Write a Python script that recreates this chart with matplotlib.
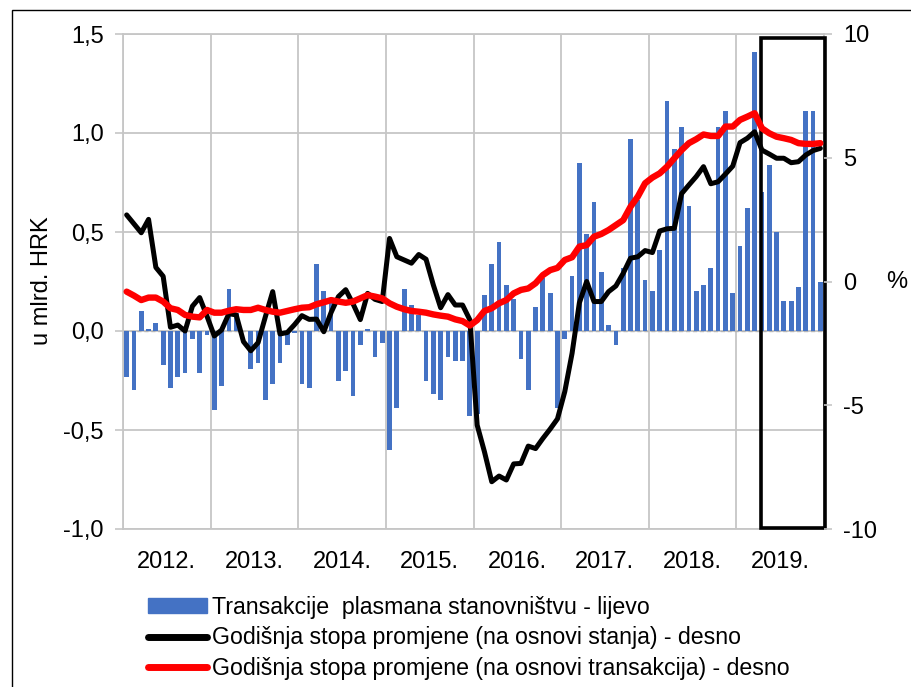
# Plasmani stanovnistvu: mjesecne transakcije (stupci, lijevo) i godisnje
# stope promjene (linije, desno), 2012.-2019.
import numpy as np
import matplotlib.pyplot as plt
from matplotlib.patches import Rectangle, Patch
from matplotlib.lines import Line2D
from matplotlib.ticker import FixedLocator, FuncFormatter, NullFormatter

plt.rcParams['font.family'] = ['Liberation Sans', 'DejaVu Sans']
plt.rcParams['font.size'] = 17
plt.rcParams['axes.unicode_minus'] = False

# --- data ----------------------------------------------------------------
years = ['2012.', '2013.', '2014.', '2015.', '2016.', '2017.', '2018.', '2019.']

transakcije = [
    -0.23, -0.30, 0.10, 0.01, 0.04, -0.17, -0.29, -0.23, -0.21, -0.04, -0.21, -0.02,
    -0.40, -0.28, 0.21, 0.09, 0.00, -0.19, -0.16, -0.35, -0.27, -0.16, -0.07, -0.01,
    -0.27, -0.29, 0.34, 0.20, 0.14, -0.25, -0.20, -0.33, -0.07, 0.01, -0.13, -0.06,
    -0.60, -0.39, 0.21, 0.13, 0.08, -0.25, -0.32, -0.35, -0.13, -0.15, -0.15, -0.43,
    -0.42, 0.18, 0.34, 0.45, 0.23, 0.16, -0.14, -0.30, 0.12, 0.27, 0.19, -0.39,
    -0.04, 0.28, 0.85, 0.49, 0.65, 0.30, 0.03, -0.07, 0.32, 0.97, 0.66, 0.26,
    0.20, 0.41, 1.16, 0.92, 1.03, 0.63, 0.20, 0.23, 0.32, 1.03, 1.11, 0.19,
    0.43, 0.62, 1.41, 0.70, 0.84, 0.50, 0.15, 0.15, 0.22, 1.11, 1.11, 0.25]

stopa_stanje = [
    2.69, 2.33, 1.97, 2.51, 0.57, 0.21, -1.85, -1.76, -2.00, -1.00, -0.65, -1.40,
    -2.20, -1.96, -1.30, -1.35, -2.43, -2.80, -2.47, -1.42, -0.41, -2.12, -2.06, -1.74,
    -1.38, -1.53, -1.52, -2.03, -1.25, -0.61, -0.33, -0.90, -1.54, -0.48, -0.72, -0.81,
    1.74, 1.00, 0.87, 0.74, 1.09, 0.90, -0.14, -1.06, -0.53, -0.95, -0.95, -1.55,
    -5.80, -6.88, -8.09, -7.86, -8.02, -7.37, -7.35, -6.65, -6.75, -6.34, -5.96, -5.55,
    -4.45, -2.90, -0.86, 0.00, -0.81, -0.81, -0.41, -0.18, 0.33, 0.94, 1.00, 1.25,
    1.17, 2.04, 2.13, 2.15, 3.55, 3.90, 4.24, 4.64, 3.95, 4.03, 4.34, 4.66,
    5.61, 5.79, 6.05, 5.31, 5.15, 4.98, 4.98, 4.80, 4.84, 5.11, 5.29, 5.38]

stopa_transakcije = [
    -0.41, -0.57, -0.75, -0.65, -0.65, -0.81, -1.08, -1.15, -1.35, -1.42, -1.45, -1.15,
    -1.26, -1.26, -1.18, -1.12, -1.15, -1.15, -1.06, -1.15, -1.22, -1.26, -1.19, -1.12,
    -1.06, -1.04, -0.92, -0.84, -0.75, -0.81, -0.86, -0.81, -0.68, -0.55, -0.61, -0.68,
    -0.88, -1.02, -1.12, -1.19, -1.22, -1.26, -1.33, -1.38, -1.42, -1.53, -1.60, -1.78,
    -1.56, -1.19, -1.08, -0.88, -0.75, -0.48, -0.34, -0.28, -0.07, 0.26, 0.46, 0.55,
    0.87, 0.98, 1.41, 1.47, 1.81, 1.92, 2.08, 2.28, 2.48, 3.02, 3.43, 3.97,
    4.20, 4.37, 4.64, 4.98, 5.31, 5.59, 5.75, 5.94, 5.88, 5.88, 6.26, 6.26,
    6.53, 6.66, 6.80, 6.19, 5.99, 5.85, 5.79, 5.72, 5.59, 5.56, 5.56, 5.59]

labels = ['Transakcije  plasmana stanovništvu - lijevo',
          'Godišnja stopa promjene (na osnovi stanja) - desno',
          'Godišnja stopa promjene (na osnovi transakcija) - desno']

# --- figure ----------------------------------------------------------------
W, H = 911, 687
fig = plt.figure(figsize=(W / 100, H / 100), dpi=100)
ax = fig.add_axes([123 / W, 1 - 529 / H, (824 - 123) / W, (529 - 34) / H])
ax2 = ax.twinx()

grid = '#c6c6c6'
x = np.arange(len(transakcije))
n_years = len(years)

ax.bar(x, transakcije, width=0.65, color='#4472C4', zorder=3)
ax.axhline(0, color='#b4b4b4', lw=1.0, ls=(0, (3, 2)), zorder=2)

ax.set_xlim(-0.5, len(x) - 0.5)
ax.set_ylim(-1.0, 1.5)
ax.set_yticks(np.arange(-1.0, 1.51, 0.5))
ax.yaxis.set_major_formatter(FuncFormatter(lambda v, p: f'{v:.1f}'.replace('.', ',')))

# gridlines on year boundaries, year labels centred in each year
bounds = np.arange(0, n_years + 1) * 12 - 0.5
ax.xaxis.set_major_locator(FixedLocator(bounds))
ax.xaxis.set_major_formatter(NullFormatter())
ax.xaxis.set_minor_locator(FixedLocator(bounds[:-1] + 6))
ax.set_xticklabels(years, minor=True)
ax.tick_params(axis='x', which='both', length=0, pad=16)
ax.grid(True, axis='both', which='major', color=grid, lw=1.3, zorder=0)
ax.set_axisbelow(True)

ax.tick_params(axis='y', length=6, width=1.2, color=grid, pad=8)
for s in ax.spines.values():
    s.set_color(grid)
    s.set_linewidth(1.3)

# right axis lines
ax2.plot(x, stopa_stanje, color='black', lw=3.6, solid_joinstyle='round',
         solid_capstyle='round', zorder=4)
ax2.plot(x, stopa_transakcije, color='#ff0000', lw=4.6, solid_joinstyle='round',
         solid_capstyle='round', zorder=5)
ax2.set_ylim(-10, 10)
ax2.set_yticks([-10, -5, 0, 5, 10])
ax2.yaxis.set_major_formatter(FuncFormatter(lambda v, p: f'{v:.0f}'))
ax2.tick_params(axis='y', length=6, width=1.2, color=grid, pad=8)
for s in ax2.spines.values():
    s.set_visible(False)

# highlight box around 2019
ax.add_patch(Rectangle((86.9, -0.995), 95.65 - 86.9, 1.48 + 0.995, fill=False,
                       ec='black', lw=2.6, zorder=10, clip_on=False))

fig.text(42 / W, 1 - 281 / H, 'u mlrd. HRK', rotation=90, ha='center', va='center')
fig.text(897 / W, 1 - 282 / H, '%', ha='center', va='center')

# outer frame
fig.add_artist(Rectangle((12 / W, -0.05), 1.1, 1 - 10 / H + 0.05, fill=False,
                         ec='black', lw=1.0, transform=fig.transFigure))

handles = [Patch(color='#4472C4'),
           Line2D([], [], color='black', lw=5, solid_capstyle='round'),
           Line2D([], [], color='#ff0000', lw=5, solid_capstyle='round')]
fig.legend(handles, labels, loc='upper left', bbox_to_anchor=(148 / W, 1 - 596 / H),
           frameon=False, borderpad=0, borderaxespad=0, handlelength=2.55,
           handleheight=0.6, handletextpad=0.2, labelspacing=0.32,
           prop={'size': 16.7})

fig.savefig('out.png', dpi=100)
